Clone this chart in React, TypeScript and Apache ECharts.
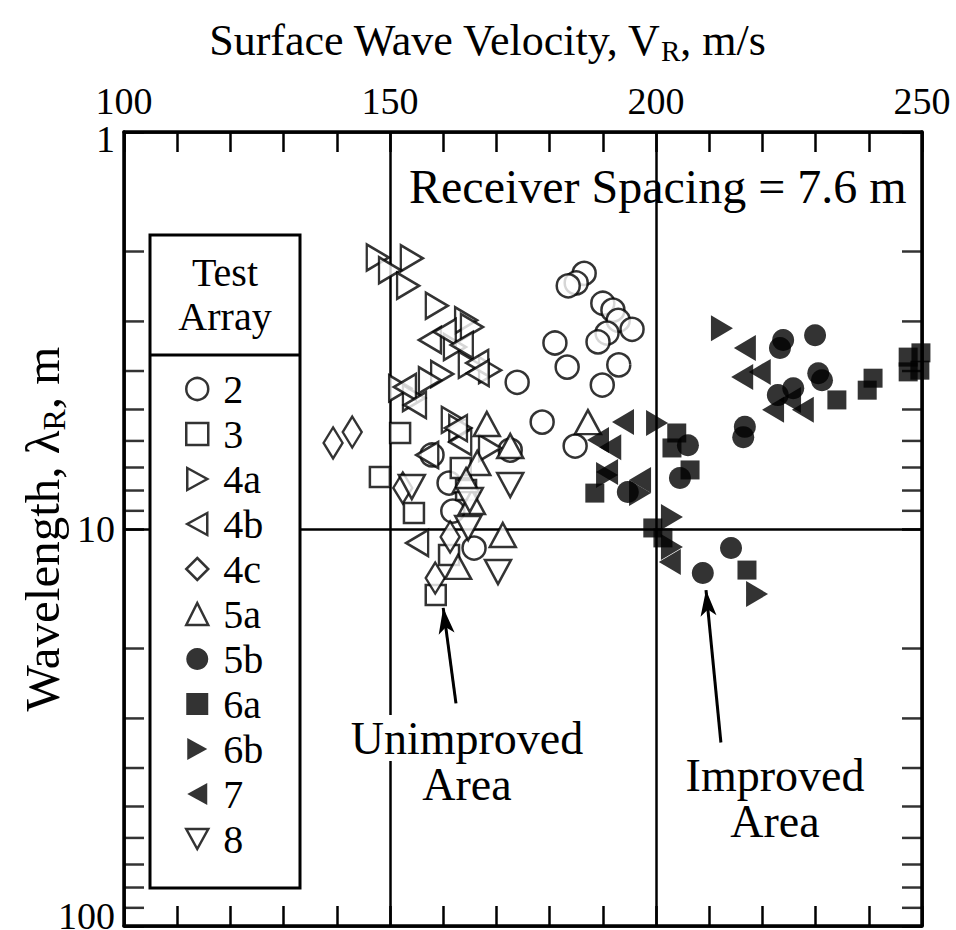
import React, { useEffect, useRef } from "react";
import * as echarts from "echarts";

const FONT = '"Liberation Serif", "Times New Roman", serif';

// Velocity (m/s), wavelength (m)
const s2: number[][] = [
  [186.5, 2.27], [185.0, 2.40], [183.5, 2.44], [190.0, 2.70], [191.9, 2.81], [192.9, 2.98],
  [195.5, 3.14], [190.8, 3.21], [189.1, 3.38], [181.0, 3.40], [183.3, 3.91], [193.0, 3.86],
  [189.9, 4.34], [173.9, 4.27], [178.6, 5.38], [184.8, 6.18], [157.9, 6.51], [172.6, 6.33],
  [161.1, 7.66], [161.8, 9.01], [165.8, 11.17],
];
const s3: number[][] = [
  [151.9, 5.73], [148.1, 7.40], [154.5, 9.12], [163.3, 7.02], [164.3, 7.98], [161.1, 11.63], [158.6, 14.67],
];
const s4a: number[][] = [
  [147.7, 2.07], [154.1, 2.08], [150.0, 2.23], [153.4, 2.44], [158.8, 2.74], [164.3, 2.98],
  [165.4, 3.10], [162.2, 3.48], [168.8, 3.98], [165.0, 3.86], [159.8, 4.07], [157.5, 4.22],
  [151.9, 4.42], [154.5, 4.68], [161.8, 5.31], [168.8, 6.25], [163.2, 5.57],
];
const s4b: number[][] = [
  [157.5, 3.34], [160.3, 3.19], [163.5, 3.44], [166.4, 3.82], [166.5, 4.05], [152.8, 4.39],
  [154.7, 4.87], [163.2, 6.04], [157.0, 6.51], [155.1, 10.85], [162.4, 5.57],
];
const s4c: number[][] = [
  [139.3, 6.07], [142.9, 5.70], [152.4, 7.88], [161.3, 10.47], [158.5, 13.29],
];
const s5a: number[][] = [
  [168.2, 5.44], [172.6, 6.18], [166.4, 6.82], [165.4, 8.55], [162.8, 12.46], [171.2, 10.35],
  [187.2, 5.38], [164.3, 7.53],
];
const s5b: number[][] = [
  [223.9, 3.34], [229.9, 3.25], [223.3, 3.50], [230.5, 4.05], [231.2, 4.22], [225.8, 4.42],
  [222.9, 4.60], [216.7, 5.53], [216.4, 5.87], [206.0, 6.15], [194.7, 8.07], [204.5, 7.44],
  [208.8, 12.91], [214.1, 11.17],
];
const s6a: number[][] = [
  [203.9, 5.73], [203.0, 6.25], [206.4, 7.10], [188.5, 8.12], [199.4, 9.94], [217.1, 12.69],
  [234.0, 4.73], [240.8, 4.17], [239.7, 4.47], [247.4, 3.69], [249.8, 3.60], [247.4, 4.02],
  [249.6, 3.98], [201.3, 10.53],
];
const s6b: number[][] = [
  [200.2, 5.41], [197.0, 8.12], [203.0, 9.33], [203.0, 11.10], [219.0, 14.58], [212.4, 3.12], [190.8, 7.31],
];
const s7: number[][] = [
  [193.8, 5.38], [191.4, 6.22], [190.8, 7.19], [202.6, 12.11], [216.7, 3.50], [216.2, 4.14],
  [219.5, 4.02], [225.2, 4.73], [222.0, 5.01], [227.6, 5.01], [189.1, 5.97], [197.0, 7.53],
];
const s8: number[][] = [
  [154.1, 7.84], [172.6, 7.75], [164.7, 9.94], [170.3, 12.83], [165.0, 8.45],
];

const xTicks = [100, 150, 200, 250];
const yMinorTicks = [2, 3, 4, 5, 6, 7, 8, 9, 20, 30, 40, 50, 60, 70, 80, 90];

// Arrow annotations: [tail, head] in data units
const arrowUnimproved: number[][] = [[162.4, 27.5], [160.0, 15.8]];
const arrowImproved: number[][] = [[212.2, 34.5], [209.4, 14.25]];

const RIGHT_TRI = "path://M0,0L20,11L0,22Z";
const LEFT_TRI = "path://M20,0L0,11L20,22Z";
const DOWN_TRI = "path://M0,0L22,0L11,20Z";

const OPEN = { color: "#fff", borderColor: "#000", borderWidth: 2.5 };
const FILLED = { color: "#000", borderColor: "#000", borderWidth: 0 };

const seriesDefs = [
  { name: "2", data: s2, symbol: "circle", size: 23, style: OPEN },
  { name: "3", data: s3, symbol: "rect", size: 20, style: OPEN },
  { name: "4a", data: s4a, symbol: RIGHT_TRI, size: [22, 26], style: OPEN },
  { name: "4b", data: s4b, symbol: LEFT_TRI, size: [22, 26], style: OPEN },
  { name: "4c", data: s4c, symbol: "diamond", size: [19, 31], style: OPEN },
  { name: "5a", data: s5a, symbol: "triangle", size: [26, 24], style: OPEN },
  { name: "5b", data: s5b, symbol: "circle", size: 22, style: FILLED },
  { name: "6a", data: s6a, symbol: "rect", size: 19, style: FILLED },
  { name: "6b", data: s6b, symbol: RIGHT_TRI, size: [22, 26], style: FILLED },
  { name: "7", data: s7, symbol: LEFT_TRI, size: [22, 26], style: FILLED },
  { name: "8", data: s8, symbol: DOWN_TRI, size: [26, 24], style: OPEN },
];

export default function App() {
  const ref = useRef<HTMLDivElement>(null);
  useEffect(() => {
    if (!ref.current) return;
    const chart = echarts.init(ref.current, null, { renderer: "svg" });
    const black = "#000";
    const axisLine = { show: true, onZero: false, lineStyle: { color: black, width: 3.5 } };
    const tick = { show: true, inside: true, length: 20, lineStyle: { color: black, width: 2.5 } };

    const scatter: any[] = seriesDefs.map((d, i) => ({
      type: "scatter",
      name: d.name,
      data: d.data,
      symbol: d.symbol,
      symbolSize: d.size,
      itemStyle: d.style,
      clip: false,
      z: d.style === OPEN ? 3 : 4,
      ...(i === 0
        ? {
            markLine: {
              silent: true,
              symbol: ["none", "arrow"],
              symbolSize: [12, 26],
              lineStyle: { color: black, width: 3, type: "solid" },
              label: { show: false },
              data: [
                [{ coord: arrowUnimproved[0] }, { coord: arrowUnimproved[1] }],
                [{ coord: arrowImproved[0] }, { coord: arrowImproved[1] }],
              ],
            },
          }
        : {}),
    }));

    const tickSeries = [
      { x: xTicks[0], off: [10, 0] },
      { x: xTicks[xTicks.length - 1], off: [-10, 0] },
    ].map((t) => ({
      type: "scatter",
      name: "_ticks",
      data: yMinorTicks.map((v) => [t.x, v]),
      symbol: "rect",
      symbolSize: [20, 2.5],
      symbolOffset: t.off,
      itemStyle: { color: black },
      silent: true,
      clip: false,
      z: 2,
    }));

    chart.setOption({
      animation: false,
      backgroundColor: "#fff",
      grid: { left: 124, right: 34, top: 132, bottom: 4, containLabel: false, outerBoundsMode: "none" },
      xAxis: [
        {
          type: "value",
          position: "top",
          min: 100,
          max: 250,
          interval: 50,
          axisLine,
          axisTick: tick,
          minorTick: { show: true, splitNumber: 5, length: 20, lineStyle: { color: black, width: 2.5 } },
          splitLine: { show: true, lineStyle: { color: black, width: 2.5 } },
          axisLabel: { fontSize: 38, fontFamily: FONT, color: black, margin: 12 },
        },
        {
          type: "value",
          position: "bottom",
          min: 100,
          max: 250,
          interval: 50,
          axisLine,
          axisTick: tick,
          minorTick: { show: true, splitNumber: 5, length: 20, lineStyle: { color: black, width: 2.5 } },
          splitLine: { show: false },
          axisLabel: { show: false },
        },
      ],
      yAxis: [
        {
          type: "log",
          logBase: 10,
          min: 1,
          max: 100,
          inverse: true,
          position: "left",
          axisLine,
          axisTick: tick,
          splitLine: { show: true, lineStyle: { color: black, width: 2.5 } },
          axisLabel: {
            fontSize: 38,
            fontFamily: FONT,
            color: black,
            margin: 9,
            formatter: (v: number) => (v === 1 ? "{low|1}" : v === 100 ? "{high|100}" : String(v)),
            rich: {
              low: { fontSize: 38, fontFamily: FONT, color: black, padding: [14, 0, 0, 0] },
              high: { fontSize: 38, fontFamily: FONT, color: black, padding: [0, 0, 20, 0] },
            },
          },
          name: "Wavelength, λ{sub|R}, m",
          nameLocation: "middle",
          nameGap: 54,
          nameMoveOverlap: false,
          nameTextStyle: {
            fontSize: 49,
            fontFamily: FONT,
            color: black,
            rich: { sub: { fontSize: 32, fontFamily: FONT, color: black, padding: [24, 0, 0, 0] } },
          },
        },
        {
          type: "log",
          logBase: 10,
          min: 1,
          max: 100,
          inverse: true,
          position: "right",
          axisLine,
          axisTick: tick,
          splitLine: { show: false },
          axisLabel: { show: false },
        },
      ],
      legend: {
        orient: "vertical",
        left: 185,
        top: 369,
        z: 200,
        padding: 0,
        itemWidth: 22,
        itemHeight: 22,
        itemGap: 5,
        selectedMode: false,
        textStyle: { fontSize: 40, fontFamily: FONT, color: black, padding: [0, 0, 0, 10] },
        data: seriesDefs.map((d) => ({ name: d.name, icon: d.symbol, itemStyle: d.style })),
      },
      graphic: [
        {
          type: "rect",
          z: 100,
          shape: { x: 150, y: 235, width: 150, height: 653 },
          style: { fill: "#fff", stroke: black, lineWidth: 3 },
        },
        {
          type: "line",
          z: 101,
          shape: { x1: 150, y1: 355, x2: 300, y2: 355 },
          style: { stroke: black, lineWidth: 3 },
        },
        {
          type: "text",
          z: 101,
          x: 225,
          y: 272,
          style: { text: "Test", font: `40px ${FONT}`, fill: black, align: "center", verticalAlign: "middle" },
        },
        {
          type: "text",
          z: 101,
          x: 225,
          y: 316,
          style: { text: "Array", font: `40px ${FONT}`, fill: black, align: "center", verticalAlign: "middle" },
        },
        {
          type: "text",
          z: 101,
          x: 487,
          y: 40,
          style: {
            text: "Surface Wave Velocity, V{sub|R}, m/s",
            fontSize: 44,
            fontFamily: FONT,
            fill: black,
            align: "center",
            verticalAlign: "middle",
            rich: { sub: { fontSize: 29, fontFamily: FONT, fill: black, padding: [22, 0, 0, 0] } },
          },
        },
        {
          type: "text",
          z: 101,
          x: 409,
          y: 186,
          style: {
            text: "Receiver Spacing = 7.6 m",
            font: `48px ${FONT}`,
            fill: black,
            align: "left",
            verticalAlign: "middle",
          },
        },
        {
          type: "text",
          z: 101,
          x: 467,
          y: 738,
          style: {
            text: "Unimproved",
            font: `46px ${FONT}`,
            fill: black,
            align: "center",
            verticalAlign: "middle",
            backgroundColor: "#fff",
          },
        },
        {
          type: "text",
          z: 101,
          x: 467,
          y: 784,
          style: { text: "Area", font: `46px ${FONT}`, fill: black, align: "center", verticalAlign: "middle" },
        },
        {
          type: "text",
          z: 101,
          x: 775,
          y: 775,
          style: { text: "Improved", font: `46px ${FONT}`, fill: black, align: "center", verticalAlign: "middle" },
        },
        {
          type: "text",
          z: 101,
          x: 775,
          y: 821,
          style: { text: "Area", font: `46px ${FONT}`, fill: black, align: "center", verticalAlign: "middle" },
        },
      ],
      series: [...tickSeries, ...scatter],
    });
    return () => chart.dispose();
  }, []);
  return (
    <div
      ref={ref}
      style={{ position: "fixed", left: 0, top: 0, width: 956, height: 930, background: "#fff" }}
    />
  );
}
